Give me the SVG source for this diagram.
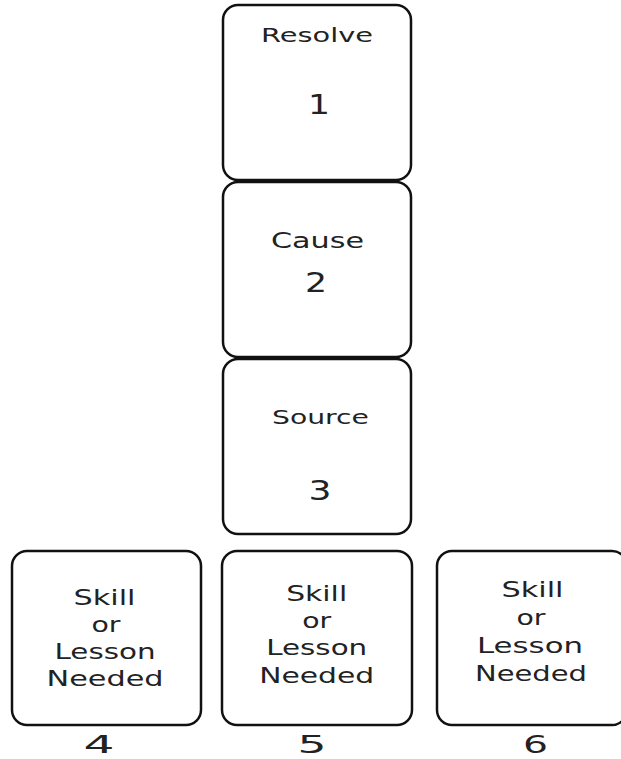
<svg xmlns="http://www.w3.org/2000/svg" width="621" height="759" viewBox="0 0 621 759">
<style>
.box{fill:#fff;stroke:#111;stroke-width:2.5}
text{font-family:"DejaVu Sans","Liberation Sans",sans-serif;fill:#222;text-anchor:middle}
.t{font-size:20px}
.b{font-size:21px}
.n{font-size:27px}
.m{font-size:25px}
</style>
<rect width="621" height="759" fill="#fff"/>
<g id="connectors"></g>
<g id="node1">
<rect class="box" x="223" y="5" width="188" height="175" rx="15"/>
<text class="t" x="317" y="42" textLength="112" lengthAdjust="spacingAndGlyphs">Resolve</text>
<text class="n" x="319" y="114" textLength="22" lengthAdjust="spacingAndGlyphs">1</text>
</g>
<g id="node2">
<rect class="box" x="223" y="182" width="188" height="175" rx="15"/>
<text class="t" x="317.5" y="248" style="font-size:21px" textLength="93" lengthAdjust="spacingAndGlyphs">Cause</text>
<text class="n" x="316" y="292" textLength="22" lengthAdjust="spacingAndGlyphs">2</text>
</g>
<g id="node3">
<rect class="box" x="223" y="359" width="188" height="175" rx="15"/>
<text class="t" x="320.5" y="423.5" textLength="97" lengthAdjust="spacingAndGlyphs">Source</text>
<text class="n" x="320" y="500" textLength="23" lengthAdjust="spacingAndGlyphs">3</text>
</g>
<g id="node4">
<rect class="box" x="12" y="551" width="189" height="174" rx="15"/>
<text class="b" x="104.5" y="605" textLength="62" lengthAdjust="spacingAndGlyphs">Skill</text>
<text class="b" x="106" y="632" textLength="29" lengthAdjust="spacingAndGlyphs">or</text>
<text class="b" x="105" y="659" textLength="101" lengthAdjust="spacingAndGlyphs">Lesson</text>
<text class="b" x="105" y="686" textLength="117" lengthAdjust="spacingAndGlyphs">Needed</text>
<text class="m" x="99" y="753" textLength="31" lengthAdjust="spacingAndGlyphs">4</text>
</g>
<g id="node5">
<rect class="box" x="222" y="551" width="190" height="174" rx="15"/>
<text class="b" x="316.7" y="601" textLength="61" lengthAdjust="spacingAndGlyphs">Skill</text>
<text class="b" x="316.7" y="628" textLength="29" lengthAdjust="spacingAndGlyphs">or</text>
<text class="b" x="316.7" y="655" textLength="101" lengthAdjust="spacingAndGlyphs">Lesson</text>
<text class="b" x="316.7" y="683" textLength="115" lengthAdjust="spacingAndGlyphs">Needed</text>
<text class="m" x="312" y="753" textLength="29" lengthAdjust="spacingAndGlyphs">5</text>
</g>
<g id="node6">
<rect class="box" x="437" y="551" width="190" height="174" rx="15"/>
<text class="b" x="532.5" y="597" textLength="62" lengthAdjust="spacingAndGlyphs">Skill</text>
<text class="b" x="531" y="625" textLength="29" lengthAdjust="spacingAndGlyphs">or</text>
<text class="b" x="530" y="653" textLength="106" lengthAdjust="spacingAndGlyphs">Lesson</text>
<text class="b" x="531" y="681" textLength="112" lengthAdjust="spacingAndGlyphs">Needed</text>
<text class="m" x="535.5" y="753" textLength="25" lengthAdjust="spacingAndGlyphs">6</text>
</g>
</svg>
